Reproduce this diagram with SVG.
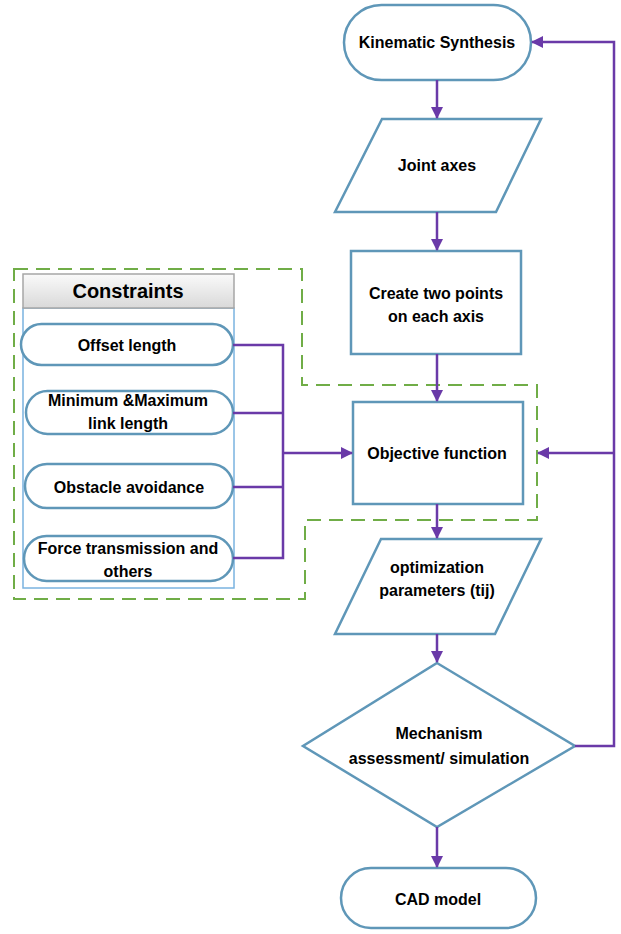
<svg xmlns="http://www.w3.org/2000/svg" width="621" height="934" viewBox="0 0 621 934">
<defs>
<marker id="ah" markerWidth="12" markerHeight="12" refX="11" refY="6" orient="auto" markerUnits="userSpaceOnUse">
<path d="M0,0 L12,6 L0,12 Z" fill="#6a3aa8"/>
</marker>
<linearGradient id="hg" x1="0" y1="0" x2="0" y2="1">
<stop offset="0" stop-color="#fafafa"/>
<stop offset="1" stop-color="#d9d9d9"/>
</linearGradient>
</defs>
<style>
.n{fill:#fff;stroke:#5f97b8;stroke-width:2.5}
.t{font-family:"Liberation Sans",Arial,sans-serif;font-weight:bold;font-size:16px;fill:#000;text-anchor:middle}
.c{fill:none;stroke:#6a3aa8;stroke-width:2.5}
.a{marker-end:url(#ah)}
</style>
<rect width="621" height="934" fill="#fff"/>
<g id="constraints-group">
<path d="M14,269 H302 V385 H537 V520 H305 V599 H14 Z" fill="none" stroke="#70ad47" stroke-width="2" stroke-dasharray="14,8"/>
<rect x="23" y="308" width="211" height="280" fill="#fff" stroke="#7ab3e0" stroke-width="1.5"/>
<rect x="23" y="274" width="211" height="34" fill="url(#hg)" stroke="#a6a6a6" stroke-width="1.5"/>
<text class="t" x="128" y="298" style="font-size:20px">Constraints</text>
</g>
<g id="offset">
<rect class="n" x="21" y="324" width="212" height="41" rx="20.5"/>
<text class="t" x="127" y="351">Offset length</text>
</g>
<g id="minmax">
<rect class="n" x="26" y="391" width="207" height="43" rx="21.5"/>
<text class="t" x="128" y="406">Minimum &amp;Maximum</text>
<text class="t" x="128" y="429">link length</text>
</g>
<g id="obstacle">
<rect class="n" x="25" y="464" width="208" height="44" rx="22"/>
<text class="t" x="129" y="493">Obstacle avoidance</text>
</g>
<g id="force">
<rect class="n" x="24" y="536" width="209" height="45" rx="22.5"/>
<text class="t" x="128" y="554">Force transmission and</text>
<text class="t" x="128" y="577">others</text>
</g>
<g id="kinematic">
<rect class="n" x="344" y="5" width="187" height="75" rx="37.5"/>
<text class="t" x="437" y="48">Kinematic Synthesis</text>
</g>
<g id="joint">
<path class="n" d="M382,119 H541 L496,212 H335 Z"/>
<text class="t" x="437" y="171">Joint axes</text>
</g>
<g id="create">
<rect class="n" x="351" y="251" width="170" height="103"/>
<text class="t" x="436" y="299">Create two points</text>
<text class="t" x="436" y="322">on each axis</text>
</g>
<g id="objective">
<rect class="n" x="353" y="402" width="170" height="102"/>
<text class="t" x="437" y="459">Objective function</text>
</g>
<g id="optimization">
<path class="n" d="M381,539 H541 L495,634 H335 Z"/>
<text class="t" x="437" y="573">optimization</text>
<text class="t" x="437" y="596">parameters (tij)</text>
</g>
<g id="assessment">
<path class="n" d="M437,663 L575,746 L437,827 L303,746 Z"/>
<text class="t" x="439" y="739">Mechanism</text>
<text class="t" x="439" y="764">assessment/ simulation</text>
</g>
<g id="cad">
<rect class="n" x="341" y="868" width="195" height="60" rx="30"/>
<text class="t" x="438" y="905">CAD model</text>
</g>
<g id="connectors">
<line class="c a" x1="437" y1="80" x2="437" y2="118"/>
<line class="c a" x1="437" y1="212" x2="437" y2="250"/>
<line class="c a" x1="437" y1="354" x2="437" y2="401"/>
<line class="c a" x1="437" y1="504" x2="437" y2="538"/>
<line class="c a" x1="437" y1="634" x2="437" y2="662"/>
<line class="c a" x1="437" y1="827" x2="437" y2="867"/>
<path class="c" d="M233,345 H283 V558 H233 M233,413 H283 M233,487 H283"/>
<line class="c a" x1="283" y1="453" x2="352" y2="453"/>
<path class="c a" d="M575,746 H614 V42 H532"/>
<line class="c a" x1="614" y1="453" x2="538" y2="453"/>
</g>
</svg>
